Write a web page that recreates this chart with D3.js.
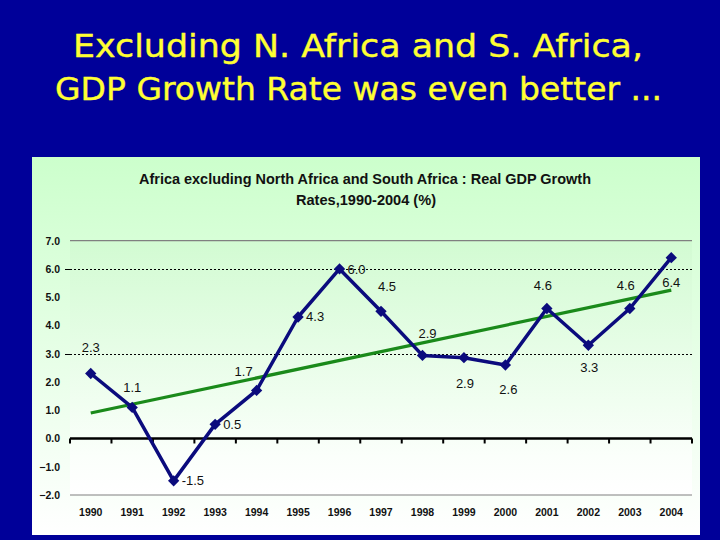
<!DOCTYPE html>
<html>
<head>
<meta charset="utf-8">
<script src="https://cdn.jsdelivr.net/npm/d3@7"></script>
<style>
  html, body { margin: 0; padding: 0; background: #000099; }
  svg { display: block; }
</style>
</head>
<body>
<svg id="chart" width="720" height="540"></svg>
<script>
// ---- data ----
const years = ["1990","1991","1992","1993","1994","1995","1996","1997","1998","1999","2000","2001","2002","2003","2004"];
const growth = [2.3, 1.1, -1.5, 0.5, 1.7, 4.3, 6.0, 4.5, 2.94, 2.86, 2.6, 4.6, 3.3, 4.6, 6.4];
const trendYears = ["1990", "2004"];
const trendValues = [0.9, 5.25];
const yTicks = [-2, -1, 0, 1, 2, 3, 4, 5, 6, 7];
const dottedGrid = [3, 6];
const slideTitle = ["Excluding N. Africa and S. Africa,", "GDP Growth Rate was even better ..."];
const chartTitle = ["Africa excluding North Africa and South Africa : Real GDP Growth", "Rates,1990-2004 (%)"];
// label offsets from each point [dx, dy, anchor]
const labelOffsets = [
  [0,-22,"middle"],[0,-15,"middle"],[8,4.5,"start"],[8,4.5,"start"],[-13,-14.5,"middle"],
  [8,4.5,"start"],[8,5,"start"],[6,-20.5,"middle"],[5,-17.5,"middle"],[1,30,"middle"],
  [3,29,"middle"],[-4,-19,"middle"],[1,27,"middle"],[-4,-19,"middle"],[0,29,"middle"]
];

const svg = d3.select("#chart");
const W = 720, H = 540;

// background
svg.append("rect").attr("width", W).attr("height", H).attr("fill", "#000099");

// slide title
const tt = svg.append("g");
tt.append("text").attr("x", 358).attr("y", 57).attr("text-anchor", "middle")
  .attr("textLength", 570).attr("lengthAdjust", "spacingAndGlyphs")
  .attr("font-family", "'DejaVu Sans', sans-serif").attr("font-size", 32)
  .attr("fill", "#FFFF33").attr("stroke", "#FFFF33").attr("stroke-width", 0.4).text(slideTitle[0]);
tt.append("text").attr("x", 358.5).attr("y", 100).attr("text-anchor", "middle")
  .attr("textLength", 607).attr("lengthAdjust", "spacingAndGlyphs")
  .attr("font-family", "'DejaVu Sans', sans-serif").attr("font-size", 32)
  .attr("fill", "#FFFF33").attr("stroke", "#FFFF33").attr("stroke-width", 0.4).text(slideTitle[1]);

// gradients
const defs = svg.append("defs");
const g1 = defs.append("linearGradient").attr("id", "panelGrad").attr("x1", 0).attr("y1", 0).attr("x2", 0).attr("y2", 1);
g1.append("stop").attr("offset", "0%").attr("stop-color", "#ccffcc");
g1.append("stop").attr("offset", "100%").attr("stop-color", "#ffffff");
const g2 = defs.append("linearGradient").attr("id", "plotGrad").attr("x1", 0).attr("y1", 0).attr("x2", 0).attr("y2", 1);
g2.append("stop").attr("offset", "0%").attr("stop-color", "#d2fbd2");
g2.append("stop").attr("offset", "85%").attr("stop-color", "#fbfffb");
g2.append("stop").attr("offset", "100%").attr("stop-color", "#ffffff");

// panel
const panel = { x: 32, y: 157, w: 668, h: 378 };
svg.append("rect").attr("x", panel.x).attr("y", panel.y).attr("width", panel.w).attr("height", panel.h)
  .attr("fill", "url(#panelGrad)");

// scales
const plot = { left: 70, right: 692, top: 240.7, bottom: 495 };
const x = d3.scaleBand().domain(years).range([plot.left, plot.right]).padding(0);
const y = d3.scaleLinear().domain([-2, 7]).range([plot.bottom, plot.top]);
const cx = d => x(d) + x.bandwidth() / 2;

svg.append("rect").attr("x", plot.left).attr("y", plot.top)
  .attr("width", plot.right - plot.left).attr("height", plot.bottom - plot.top)
  .attr("fill", "url(#plotGrad)");

// chart title
const ct = svg.append("g").attr("font-family", "'Liberation Sans', Arial, sans-serif")
  .attr("font-weight", "bold").attr("font-size", 14).attr("fill", "#111");
ct.append("text").attr("x", 365).attr("y", 184).attr("text-anchor", "middle")
  .attr("textLength", 452).attr("lengthAdjust", "spacingAndGlyphs").text(chartTitle[0]);
ct.append("text").attr("x", 366).attr("y", 205).attr("text-anchor", "middle")
  .attr("textLength", 140).attr("lengthAdjust", "spacingAndGlyphs").text(chartTitle[1]);

// plot border lines top/bottom (gray)
svg.append("line").attr("x1", plot.left).attr("x2", plot.right).attr("y1", y(7)).attr("y2", y(7))
  .attr("stroke", "#808080").attr("stroke-width", 1.2);
svg.append("line").attr("x1", plot.left).attr("x2", plot.right).attr("y1", y(-2)).attr("y2", y(-2))
  .attr("stroke", "#808080").attr("stroke-width", 1.2);

// dotted grid lines
svg.append("g").selectAll("line").data(dottedGrid).join("line")
  .attr("x1", plot.left).attr("x2", plot.right)
  .attr("y1", d => Math.round(y(d)) + 0.5).attr("y2", d => Math.round(y(d)) + 0.5)
  .attr("stroke", "#000").attr("stroke-width", 1).attr("stroke-dasharray", "2,2");
svg.append("g").selectAll("line").data(dottedGrid).join("line")
  .attr("x1", plot.left - 5).attr("x2", plot.left)
  .attr("y1", d => Math.round(y(d)) + 0.5).attr("y2", d => Math.round(y(d)) + 0.5)
  .attr("stroke", "#000").attr("stroke-width", 1);

// y axis labels
const yAxis = svg.append("g").attr("transform", `translate(${plot.left - 10},0)`)
  .call(d3.axisLeft(y).tickValues(yTicks).tickSize(0).tickPadding(0).tickFormat(d3.format(".1f")));
yAxis.select(".domain").remove();
yAxis.selectAll("text").attr("font-family", "'Liberation Sans', Arial, sans-serif")
  .attr("font-weight", "bold").attr("font-size", 10.5).attr("fill", "#111");

// x axis labels at the bottom
const xLab = svg.append("g").attr("transform", `translate(0,${plot.bottom + 10})`)
  .call(d3.axisBottom(x).tickSize(0).tickPadding(4));
xLab.select(".domain").remove();
xLab.selectAll("text").attr("font-family", "'Liberation Sans', Arial, sans-serif")
  .attr("font-weight", "bold").attr("font-size", 10.5).attr("fill", "#111");

// zero axis line with ticks at category boundaries
const zeroY = y(0);
svg.append("line").attr("x1", plot.left).attr("x2", plot.right).attr("y1", zeroY).attr("y2", zeroY)
  .attr("stroke", "#000").attr("stroke-width", 2.5);
const boundaries = years.map(d => x(d)).concat([plot.right]);
svg.append("g").selectAll("line").data(boundaries).join("line")
  .attr("x1", d => d).attr("x2", d => d).attr("y1", zeroY).attr("y2", zeroY + 5)
  .attr("stroke", "#000").attr("stroke-width", 2);

// trend line
svg.append("line")
  .attr("x1", cx(trendYears[0])).attr("y1", y(trendValues[0]))
  .attr("x2", cx(trendYears[1])).attr("y2", y(trendValues[1]))
  .attr("stroke", "#1a8a1a").attr("stroke-width", 3.2);

// data line
const line = d3.line().x((d, i) => cx(years[i])).y(d => y(d));
svg.append("path").datum(growth).attr("d", line)
  .attr("fill", "none").attr("stroke", "#0b0b7d").attr("stroke-width", 3.5).attr("stroke-linejoin", "round");

// markers
const diamond = d3.symbol().type(d3.symbolSquare).size(64);
svg.append("g").selectAll("path").data(growth).join("path")
  .attr("d", diamond)
  .attr("transform", (d, i) => `translate(${cx(years[i])},${y(d)}) rotate(45)`)
  .attr("fill", "#0b0b7d");

// data labels
svg.append("g").selectAll("text").data(growth).join("text")
  .attr("x", (d, i) => cx(years[i]) + labelOffsets[i][0])
  .attr("y", (d, i) => y(d) + labelOffsets[i][1])
  .attr("text-anchor", (d, i) => labelOffsets[i][2])
  .attr("font-family", "'Liberation Sans', Arial, sans-serif")
  .attr("font-size", 13).attr("fill", "#111")
  .text(d => d.toFixed(1));
</script>
</body>
</html>
